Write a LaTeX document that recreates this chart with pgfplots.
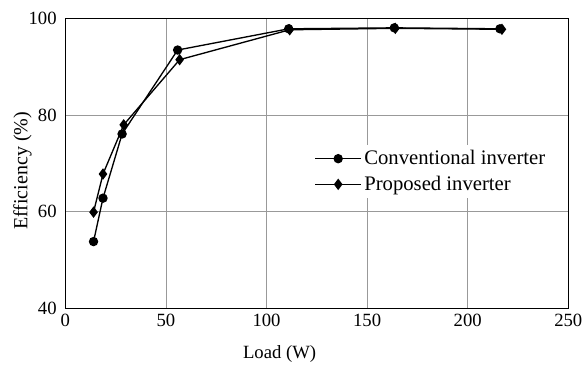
\documentclass[border=0pt]{standalone}
\usepackage{pgfplots}
\pgfplotsset{compat=1.18}
\usepackage{fontspec}
\setmainfont{Liberation Serif}
\begin{document}
\begin{tikzpicture}
\useasboundingbox (-49pt,-44pt) rectangle (388pt,231pt);
\begin{axis}[
  scale only axis,
  width=377pt, height=217pt,
  xmin=0, xmax=250, ymin=40, ymax=100,
  xtick={0,50,...,250}, ytick={40,60,80,100},
  grid=major,
  major grid style={gray!80, line width=0.5pt},
  major tick length=0pt,
  axis line style={line width=1pt},
  /pgf/number format/assume math mode=true,
  tick label style={font=\fontsize{14}{16}\selectfont},
  xticklabel style={yshift=-1pt},
  yticklabel style={xshift=-3pt},
  xlabel={Load (W)},
  ylabel={Efficiency (\%)},
  xlabel style={font=\fontsize{14}{16}\selectfont, at={(axis description cs:0.426,0)}, anchor=base, yshift=-38pt},
  ylabel style={font=\fontsize{15}{18}\selectfont, at={(axis description cs:0,0.474)}, anchor=base, yshift=28.5pt},
  legend style={draw=none, fill=white, at={(0.49,0.564)}, anchor=north west,
    font=\fontsize{15.5}{18}\selectfont, row sep=3pt, inner sep=2pt},
  legend cell align=left,
  legend image code/.code={\draw[#1] (0cm,0cm) -- (1.2cm,0cm); \draw[#1, mark repeat=2, mark phase=2] plot coordinates {(0cm,0cm) (0.6cm,0cm) (1.2cm,0cm)};},
]
\addplot[black, line width=1pt, mark=*, mark size=3pt] coordinates {
  (14,53.8) (18.7,62.8) (28.2,76.1) (55.8,93.5) (111,97.9) (163.5,98.1) (216,97.9)
};
\addlegendentry{Conventional inverter}
\addplot[black, line width=1pt, mark=diamond*, mark size=3.5pt] coordinates {
  (14,59.9) (18.7,67.8) (29,78) (56.8,91.5) (111.5,97.7) (164,98) (217,97.8)
};
\addlegendentry{Proposed inverter}
\end{axis}
\end{tikzpicture}
\end{document}
